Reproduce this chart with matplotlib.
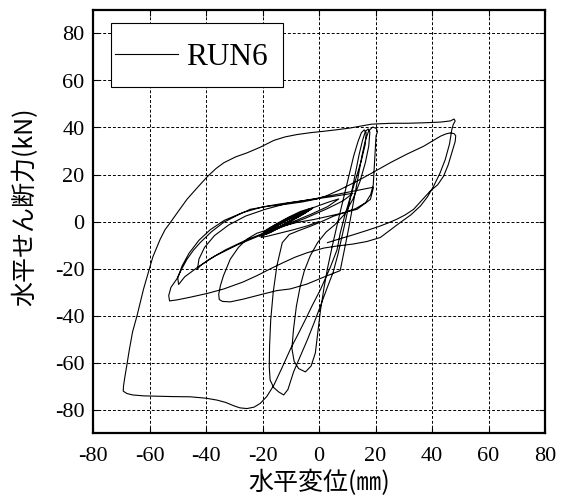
import numpy as np
import matplotlib.pyplot as plt
from matplotlib.patches import Rectangle

# RUN6 荷重-変位履歴 (水平変位 mm, 水平せん断力 kN)
small_loops = [
    (0, 0), (-4, -1.8), (-9, -3.5), (-14, -5), (-18, -6.2), (-20.5, -6.8),
    (-18, -3.6), (-14, -0.8), (-10, 1.6), (-6, 3.9), (-2, 6),
    (-5, 3.5), (-9, 0.8), (-13, -1.9), (-17, -4.6), (-21, -6.3),
    (-18.5, -3.4), (-14.5, -0.6), (-10.5, 2), (-6.5, 4.3), (-3, 5.6),
    (-6.5, 2.8), (-10.5, 0.1), (-14.5, -2.5), (-18, -4.9), (-19.5, -5.8),
    (-17, -3.2), (-13, -0.5), (-9, 2.1), (-5, 4.3), (-3.5, 4.9),
    (-7, 2.2), (-11, -0.6), (-15, -3.2), (-18.5, -5.3),
    (-16, -2.8), (-12, 0), (-8, 2.5), (-4.5, 4.6),
    (-8, 2), (-12, -0.9), (-16, -3.6), (-19, -5.5),
    (-17.5, -3.3), (-14, -1), (-10, 1.5), (-6, 3.7), (-2.5, 5.4),
    (-5.5, 3.2), (-10, 0.3), (-15, -2.8), (-20, -5.8),
    (-17, -2.5), (-12, 0.8), (-7, 3.6), (-4, 5),
]

medium_loops = [
    (0, 6.8), (4, 8.5), (7, 9.6),
    (3, 6.3), (-3, 3), (-10, -0.5), (-18, -4.2), (-26, -8), (-33, -12),
    (-39, -16.2), (-42, -18.8), (-43, -20.2),
    (-42.5, -16), (-40.5, -11), (-37, -6), (-32, -1.5), (-26, 2.3),
    (-19, 5.2), (-11, 7.8), (-3, 9.3), (4, 10.5), (12, 12),
    (8.5, 8.8), (3, 5.5), (-5, 1.3), (-13, -2.3), (-21, -6), (-29, -10),
    (-37, -14.8), (-43, -19.5), (-47.5, -23.5), (-49.7, -26.8),
    (-50, -24), (-48.5, -19), (-46, -13.5), (-42.5, -8), (-38.5, -3.5),
    (-33.5, 0.5), (-27, 3.8), (-20, 6.2), (-13.7, 7.5), (-6, 8.8),
    (-1.9, 9.6), (4, 11), (9.9, 12.4), (15, 13.6), (19.3, 14.6),
    (18.2, 9.4), (13.5, 5.2), (8, 3.5), (4, 2.4), (-2, 0.8), (-7.8, -0.4),
    (-13, -2), (-18, -3.5), (-22, -5), (-25.5, -7.5), (-28.5, -11),
    (-31.4, -16), (-33.8, -23), (-34.9, -27.3), (-35.5, -31), (-35.3, -33.2),
    (-34.2, -34), (-31.4, -34.2), (-26.7, -33), (-19.6, -30.8), (-14.9, -29.4),
    (-10.2, -28.7), (-4.2, -26.6), (1.6, -23.7), (7.5, -20.9),
]

tall_loops = [
    (9, -12), (10.5, -3), (12, 7), (13.7, 18), (15.2, 28), (16.4, 34.5),
    (17.6, 38.6), (19, 40.2), (20.3, 39.6), (20.7, 38.2), (20.2, 36.5),
    (19.9, 30), (19.5, 22), (19.2, 15.5), (18.3, 11.5), (16.5, 8), (13, 5.5),
    (9, 3.8), (5, 2.2), (1, 0), (-3, -2), (-7, -3.8), (-10.5, -5.5),
    (-13, -9), (-14.9, -18.8), (-16.2, -30), (-17.1, -42), (-17.5, -53),
    (-17.6, -62), (-17.3, -67.5), (-16, -70.7), (-14.3, -72.5), (-12.5, -73.8),
    (-11, -71.5), (-9, -64), (-6.5, -57), (-4, -50), (-1.7, -43), (0.5, -36),
    (2.8, -28.5), (5, -21.6), (6.7, -14), (8.2, -6), (9.7, 2), (11.3, 11),
    (12.8, 20), (14.2, 28.5), (15.4, 34.5), (16.4, 38.3), (17.4, 39.4),
    (18, 38), (17.6, 32), (16.4, 25), (14.5, 17), (12, 9.5), (9, 3),
    (5.5, -1.5), (2.5, -4.5), (-0.5, -9), (-3.1, -14.6), (-5.2, -21),
    (-6.6, -27.3), (-8, -36), (-9, -45.6), (-9.6, -54), (-8.8, -59.5),
    (-7.2, -62.6), (-4.8, -64), (-2.8, -61.5), (-1.3, -56), (-0.5, -48),
    (0.5, -38), (1.8, -28), (3, -20), (4.6, -11), (6.5, -1), (8.5, 9),
    (10.5, 19), (12.3, 28), (13.8, 34), (15, 37.8), (16, 39), (16.7, 37.8),
    (16.4, 33), (15, 26), (13, 18), (11, 10), (9, 2), (7.5, -5), (6.4, -12),
    (4, -19.5), (0.5, -29), (-2.5, -36), (-4.5, -41), (-7, -47), (-10, -54),
    (-13, -62), (-16, -69.7), (-18.5, -74.5), (-20.8, -77.4), (-23, -79),
    (-25.5, -79.6), (-28, -79.3), (-30.2, -78.4), (-33, -77), (-36.1, -76),
    (-40, -75.2), (-45.5, -74.6), (-52, -74.5), (-58, -74.3), (-62.1, -74.2),
    (-66, -73.8), (-68, -73.2), (-69.3, -72.2),
]

large_cycles = [
    (-69.2, -70), (-68.7, -66), (-68, -61), (-67.2, -55), (-66, -47),
    (-64.4, -40), (-63.2, -34), (-62.1, -28.7), (-60.5, -22), (-58.8, -15),
    (-56.2, -7.5), (-54.5, -3.5), (-52.6, -0.4), (-50, 4), (-46.7, 9.5),
    (-43, 14.5), (-39.6, 19), (-36.5, 22.5), (-33.7, 25), (-29.5, 27.5),
    (-25.5, 29.2), (-21, 31.5), (-16, 34.5), (-12, 36), (-7.8, 37), (-3, 37.8),
    (1.7, 38.4), (6, 39), (11.1, 39.8), (15.8, 40.8), (18.5, 41.4), (21.7, 41.6),
    (26, 41.8), (31.2, 41.8), (37, 42), (43, 42.3), (46.5, 42.8), (47.8, 43.6),
    (48.2, 42.8), (47.5, 41.2), (47, 39), (46.2, 33), (44.7, 26.4), (42.8, 20.5),
    (40.6, 15.1), (38.4, 10.5), (35.9, 6.6), (32.5, 2.8), (28.8, -0.4),
    (25, -3.8), (21.7, -6.8), (17, -8.5), (12, -9.6), (6, -10.5), (1.7, -11.3),
    (-4.2, -13.3), (-8.5, -15.2), (-12.5, -17.4), (-17, -20), (-21.9, -23),
    (-27, -25.8), (-33.7, -28.7), (-39.5, -30.6), (-45.5, -32.2), (-50, -33.3),
    (-52.9, -33.8), (-53.2, -31.5), (-52.4, -28), (-50.3, -24.4), (-48.5, -20),
    (-46.7, -16), (-44.5, -12.3), (-42, -8.9), (-38, -4.3), (-33.8, -0.4),
    (-29, 2.6), (-24.3, 5.2), (-18, 6.5), (-12, 7.3), (-6, 8.3), (-1, 9.5),
    (2.8, 11), (7, 13.3), (13.5, 17.2), (19, 20.8), (25.2, 25), (31, 28.6),
    (37, 32), (40.6, 34.6), (43, 36.3), (45, 37.3), (46.5, 37.7), (47.8, 37.4),
    (48.4, 36.5), (48.2, 34), (47, 29.2), (45.7, 24), (44.1, 19.3), (42, 15.6),
    (39.4, 13), (36.5, 9.2), (33.5, 5.2), (30.5, 2.8), (27.6, 1), (24.5, -0.6),
    (21.7, -1.9), (17, -3.8), (12, -5.7), (7, -7.5), (3, -9),
]

path = np.array(small_loops + medium_loops + tall_loops + large_cycles)
disp = path[:, 0]
force = path[:, 1]

xticks = [-80, -60, -40, -20, 0, 20, 40, 60, 80]
yticks = [-80, -60, -40, -20, 0, 20, 40, 60, 80]

jp = ['Noto Sans CJK JP', 'DejaVu Sans']
serif = 'Liberation Serif'

fig = plt.figure(figsize=(5.65, 4.98), dpi=100)
ax = fig.add_axes([93 / 565, 1 - 433 / 498, 452 / 565, 423 / 498])

ax.plot(disp, force, color='black', linewidth=0.8)

ax.set_xlim(-80, 80)
ax.set_ylim(-90, 90)
ax.set_xticks(xticks)
ax.set_yticks(yticks)
ax.set_xticklabels([str(v) for v in xticks], fontfamily=serif, fontsize=16)
ax.set_yticklabels([str(v) for v in yticks], fontfamily=serif, fontsize=16)
ax.tick_params(direction='in', length=4, width=0.8, top=True, right=True)
ax.tick_params(axis='x', pad=10)
ax.tick_params(axis='y', pad=6)

ax.grid(True, color='black', linestyle=(0, (3, 2)), linewidth=0.7)
ax.set_axisbelow(True)
for s in ax.spines.values():
    s.set_linewidth(1.6)

ax.set_xlabel('水平変位(㎜)', family=jp, fontsize=18, labelpad=3)
ax.set_ylabel('水平せん断力(kN)', family=jp, fontsize=18)
ax.yaxis.set_label_coords(-0.121, 0.534)

# 凡例枠 (横の余白が狭く縦に広い枠なので手で描く)
ax.add_patch(Rectangle((0.039, 0.817), 0.382, 0.152, transform=ax.transAxes,
                       facecolor='white', edgecolor='black', linewidth=0.8,
                       zorder=5))
ax.plot([0.049, 0.188], [0.897, 0.897], transform=ax.transAxes,
        color='black', linewidth=0.8, zorder=6)
ax.text(0.206, 0.870, 'RUN6', transform=ax.transAxes, fontfamily=serif,
        fontsize=22.5, ha='left', va='baseline', zorder=6)

fig.savefig('out.png', dpi=100)
